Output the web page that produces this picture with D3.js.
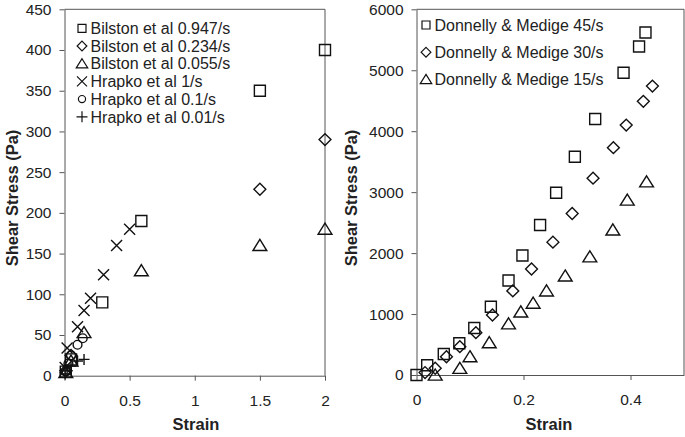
<!DOCTYPE html>
<html><head><meta charset="utf-8">
<script src="https://cdn.jsdelivr.net/npm/d3@7"></script>
<style>
body{margin:0;background:#fff;}
svg{display:block;font-family:"Liberation Sans",Arial,sans-serif;}
</style></head>
<body><svg id="c" width="685" height="437"></svg>
<script>
// ---------- data ----------
const leftSeriesNames = ["Bilston et al 0.947/s","Bilston et al 0.234/s","Bilston et al 0.055/s","Hrapko et al 1/s","Hrapko et al 0.1/s","Hrapko et al 0.01/s"];
const leftSymbols = ["square","diamond","triangle","cross","circle","plus"];
const bilston0947 = [[0.01,5],[0.05,20],[0.29,90],[0.59,190],[1.5,350],[2,400]];
const bilston0234 = [[0.01,6],[0.05,25],[1.5,229],[2,290]];
const bilston0055 = [[0.01,4],[0.05,18],[0.15,53],[0.59,129],[1.5,160],[2,180]];
const hrapko1 = [[0.005,10],[0.02,34],[0.1,60],[0.15,80],[0.2,95],[0.3,124],[0.4,160],[0.5,180]];
const hrapko01 = [[0.01,5],[0.03,15],[0.05,25],[0.1,38],[0.14,46]];
const hrapko001 = [[0.005,2],[0.02,6],[0.05,12],[0.1,18],[0.15,20]];
const leftXTicks = [0,0.5,1,1.5,2];
const leftYTicks = [0,50,100,150,200,250,300,350,400,450];

const rightSeriesNames = ["Donnelly & Medige 45/s","Donnelly & Medige 30/s","Donnelly & Medige 15/s"];
const rightSymbols = ["square","diamond","triangle"];
const dm45 = [[0,0],[0.02,160],[0.051,345],[0.08,520],[0.108,770],[0.139,1120],[0.172,1550],[0.198,1960],[0.231,2460],[0.261,2990],[0.296,3580],[0.334,4200],[0.387,4960],[0.416,5390],[0.428,5620]];
const dm30 = [[0.016,40],[0.035,110],[0.056,300],[0.081,465],[0.111,695],[0.142,985],[0.18,1380],[0.215,1740],[0.255,2180],[0.291,2650],[0.33,3230],[0.368,3730],[0.392,4100],[0.424,4490],[0.441,4740]];
const dm15 = [[0.035,0],[0.081,110],[0.1,300],[0.136,530],[0.172,840],[0.195,1035],[0.218,1180],[0.243,1380],[0.278,1625],[0.324,1940],[0.367,2380],[0.394,2870],[0.43,3170]];
const rightXTicks = [0,0.2,0.4];
const rightYTicks = [0,1000,2000,3000,4000,5000,6000];

const xTitle = "Strain";
const yTitle = "Shear Stress (Pa)";

// ---------- drawing ----------
const svg = d3.select("#c");
const INK = "#111";

function shapePath(type, s){
  const h = s/2;
  switch(type){
    case "square": return `M${-h},${-h}H${h}V${h}H${-h}Z`;
    case "diamond": { const d=h*1.08; return `M0,${-d}L${d},0L0,${d}L${-d},0Z`; }
    case "triangle": { const w=h*1.15, t=h*1.0; return `M0,${-t}L${w},${t*0.85}L${-w},${t*0.85}Z`; }
    case "cross": return `M${-h},${-h}L${h},${h}M${-h},${h}L${h},${-h}`;
    case "plus": return `M${-h},0H${h}M0,${-h}V${h}`;
    case "circle": { const r=h*0.8; return `M${r},0A${r},${r} 0 1,1 ${-r},0A${r},${r} 0 1,1 ${r},0Z`; }
  }
}

function panel(cfg){
  const g = svg.append("g");
  const x = d3.scaleLinear().domain(cfg.xDomain).range([cfg.x0, cfg.x1]);
  const y = d3.scaleLinear().domain(cfg.yDomain).range([cfg.y0, cfg.y1]);
  g.append("path").attr("d", `M${cfg.x0},${cfg.y1}H${cfg.x1}V${cfg.y0}`)
    .attr("fill","none").attr("stroke","#555").attr("stroke-width",1);
  const xa = g.append("g").attr("transform",`translate(0,${cfg.y0})`)
    .call(d3.axisBottom(x).tickValues(cfg.xTicks).tickFormat(d=>String(d)).tickSize(5).tickPadding(14).tickSizeOuter(0));
  const ya = g.append("g").attr("transform",`translate(${cfg.x0},0)`)
    .call(d3.axisLeft(y).tickValues(cfg.yTicks).tickFormat(d=>String(d)).tickSize(5).tickPadding(8).tickSizeOuter(0));
  [xa,ya].forEach(a=>{
    a.selectAll("path,line").attr("stroke","#555");
    a.selectAll("text").attr("fill","#222").style("font-size","15.5px").style("font-family","'Liberation Sans',Arial,sans-serif");
  });
  g.append("text").attr("x",cfg.xTitleX).attr("y",430).attr("text-anchor","middle")
    .style("font-weight","bold").style("font-size","16.5px").attr("fill","#222").text(xTitle);
  g.append("text").attr("transform",`translate(${cfg.yTitleX},${cfg.yTitleY}) rotate(-90)`)
    .attr("text-anchor","middle").attr("dy","0.35em")
    .style("font-weight","bold").style("font-size","16.5px").attr("fill","#222").text(yTitle);
  cfg.series.forEach((s,i)=>{
    g.append("g").selectAll("path").data(s.data).join("path")
      .attr("transform",d=>`translate(${x(d[0])},${y(d[1])})`)
      .attr("d", shapePath(s.sym, s.size))
      .attr("fill","none").attr("stroke",INK).attr("stroke-width",1.4);
  });
  const lg = g.append("g");
  cfg.series.forEach((s,i)=>{
    const yy = cfg.legY + i*cfg.legStep;
    lg.append("path").attr("transform",`translate(${cfg.legX},${yy})`)
      .attr("d", shapePath(s.sym, s.legSize)).attr("fill","none").attr("stroke",INK).attr("stroke-width",1.2);
    lg.append("text").attr("x",cfg.legX+8.5).attr("y",yy).attr("dy","0.36em")
      .style("font-size","16px").attr("fill","#222").text(s.name);
  });
}

const leftData = [bilston0947,bilston0234,bilston0055,hrapko1,hrapko01,hrapko001];
const leftSizes = [11,11,12,11,11,11];
const leftLegSizes = [8,9,10,10,9,11];
panel({
  xDomain:[0,2], yDomain:[0,450], x0:64.5, x1:325, y0:375.7, y1:9.3,
  xTicks:leftXTicks, yTicks:leftYTicks, xTitleX:196, yTitleX:12, yTitleY:198,
  legX:82, legY:28.3, legStep:17.7,
  series: leftData.map((d,i)=>({data:d, sym:leftSymbols[i], name:leftSeriesNames[i], size:leftSizes[i], legSize:leftLegSizes[i]}))
});

const rightData = [dm45,dm30,dm15];
const rightSizes = [11,11,12];
const rightLegSizes = [8,9,10];
panel({
  xDomain:[0,0.5], yDomain:[0,6000], x0:416.5, x1:684, y0:375, y1:9.3,
  xTicks:rightXTicks, yTicks:rightYTicks, xTitleX:549, yTitleX:351, yTitleY:198,
  legX:426, legY:25, legStep:27.2,
  series: rightData.map((d,i)=>({data:d, sym:rightSymbols[i], name:rightSeriesNames[i], size:rightSizes[i], legSize:rightLegSizes[i]}))
});
</script></body></html>
